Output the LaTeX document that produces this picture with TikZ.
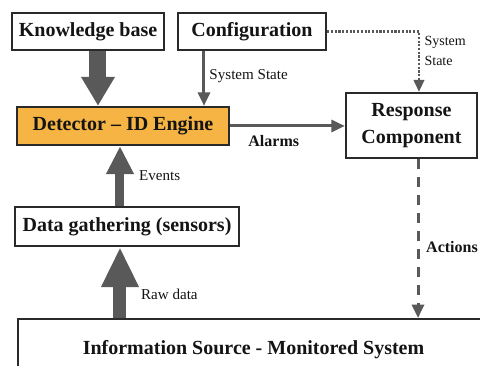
\documentclass[tikz,border=0pt]{standalone}
\usepackage{fontspec}
\setmainfont{Liberation Serif}
\usetikzlibrary{arrows.meta}
\definecolor{boxline}{HTML}{2A2A2A}
\definecolor{arrowgray}{HTML}{595959}
\definecolor{detfill}{HTML}{F5B443}
\definecolor{txt}{HTML}{141414}
\begin{document}
\begin{tikzpicture}[x=0.75pt,y=-0.75pt,
  box/.style={draw=boxline,line width=1.8pt,fill=white,inner sep=0pt,
    font=\fontsize{15}{17}\selectfont\bfseries,text=txt,align=center},
  small/.style={font=\fontsize{11.3}{13}\selectfont,text=txt,inner sep=1pt},
  smallb/.style={font=\fontsize{12}{14}\selectfont\bfseries,text=txt,inner sep=1pt},
  thin/.style={draw=arrowgray,line width=2.25pt,
    -{Triangle[width=9pt,length=10pt]},arrowgray},
]
\useasboundingbox (0,0) rectangle (480,366);
\clip (0,0) rectangle (480,366);
\fill[white] (0,0) rectangle (480,366);

\node[box,minimum width=114pt,minimum height=27.75pt] (kb) at (88,31.5) {Knowledge base};
\node[box,minimum width=111pt,minimum height=27.75pt] (conf) at (252,31.5) {Configuration};
\node[box,fill=detfill,minimum width=159pt,minimum height=28.5pt] (det) at (123,126) {Detector -- ID Engine};
\node[box,minimum width=98.25pt,minimum height=48.75pt,font=\fontsize{15}{20}\selectfont\bfseries] (resp) at (411.5,125.5) {Response\\Component};
\node[box,minimum width=168pt,minimum height=29.25pt] (data) at (127,226.5) {Data gathering (sensors)};
\node[box,anchor=north west,minimum width=362pt,minimum height=45pt] (info) at (17,318) {Information Source - Monitored System\hspace*{9pt}};

% knowledge base -> detector
\draw[draw=arrowgray,line width=12.75pt,-{Triangle[width=24pt,length=21.75pt]},arrowgray]
  ([xshift=7.5pt]kb.south) -- ([xshift=7.5pt]kb.south |- det.north);
% configuration -> detector
\draw[thin] ([xshift=-36pt]conf.south) -- ([xshift=-36pt]conf.south |- det.north)
  node[pos=0.45,right=2pt,small] (lss) {System State};
% alarms
\draw[thin] (det.east) -- (det.east -| resp.west)
  node[pos=0.38,below=5pt,smallb] (lal) {Alarms};
% dotted system state
\draw[draw=arrowgray,line width=1.6pt,dash pattern=on 1.6pt off 1.2pt,
  -{Triangle[width=8pt,length=9pt]},arrowgray]
  (conf.east) -| ([xshift=5.6pt]resp.north);
\node[small,anchor=north west,align=left,font=\fontsize{10.5}{15}\selectfont] (lst) at (423,35) {System\\State};
% actions dashed
\draw[draw=arrowgray,line width=2.25pt,dash pattern=on 7.5pt off 6pt,
  -{Triangle[width=9pt,length=10pt]},arrowgray]
  ([xshift=4.9pt]resp.south) -- ([xshift=4.9pt]resp.south |- info.north)
  node[pos=0.55,right=4pt,smallb] (lac) {Actions};
% events
\draw[draw=arrowgray,line width=6.75pt,-{Triangle[width=19.5pt,length=21pt]},arrowgray]
  ([xshift=-5.25pt]data.north) -- ([xshift=-5.25pt]data.north |- det.south)
  node[midway,right=10pt,small] (lev) {Events};
% raw data
\draw[draw=arrowgray,line width=9.75pt,-{Triangle[width=26.25pt,length=30pt]},arrowgray]
  ([xshift=-5.25pt]data.south |- info.north) -- ([xshift=-5.25pt]data.south)
  node[pos=0.33,right=10pt,small] (lrd) {Raw data};
\end{tikzpicture}
\end{document}
